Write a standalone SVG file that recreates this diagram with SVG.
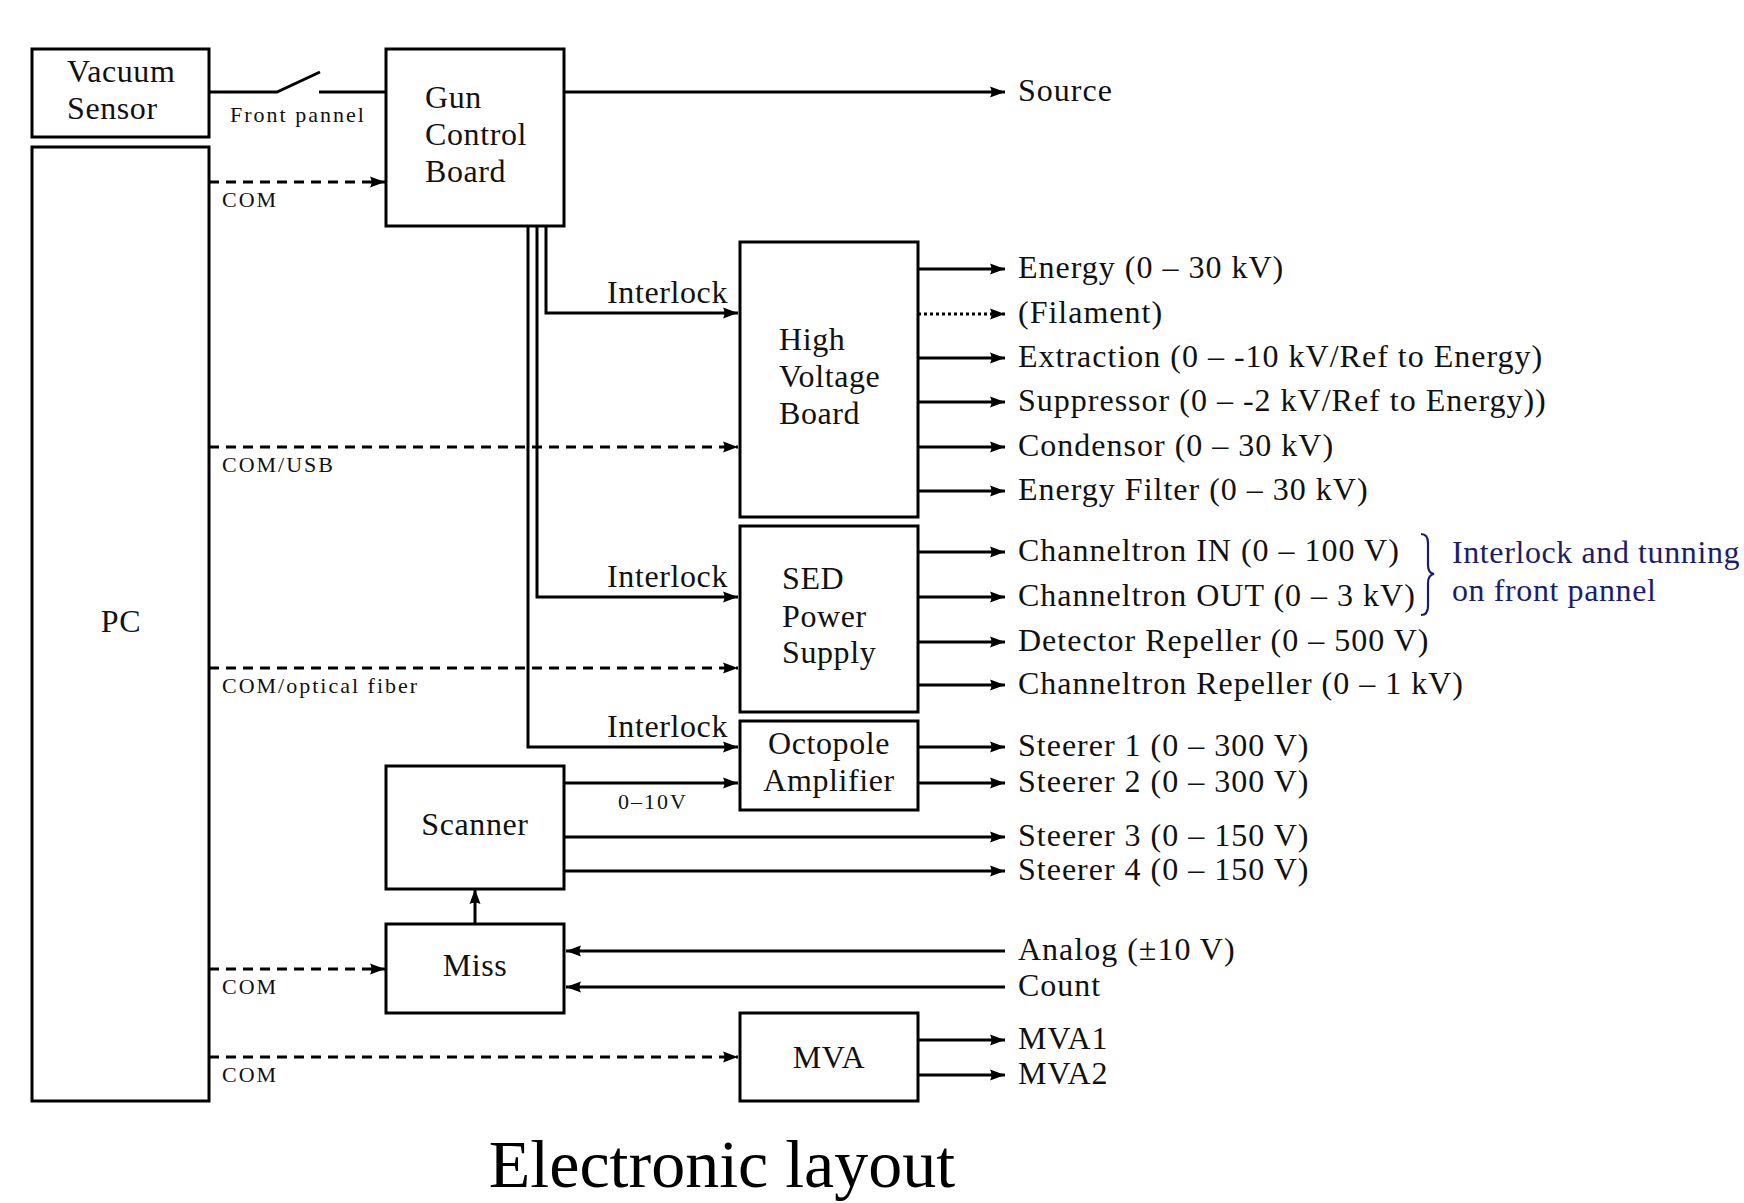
<svg xmlns="http://www.w3.org/2000/svg" width="1744" height="1203" viewBox="0 0 1744 1203">
<style>
  .box { fill: #fff; stroke: #000; stroke-width: 3; }
  .t { font-family: 'Liberation Serif', 'Times New Roman', serif; font-size: 32px; letter-spacing: 0.6px; fill: #111; }
  .o { letter-spacing: 1px; }
  .s { font-family: 'Liberation Serif', 'Times New Roman', serif; font-size: 22px; letter-spacing: 2px; fill: #111; }
  .ln { fill: none; stroke: #000; stroke-width: 3; }
  .arr { fill: none; stroke: #000; stroke-width: 3; marker-end: url(#ah); }
  .dash { fill: none; stroke: #000; stroke-width: 3; stroke-dasharray: 10 7; marker-end: url(#ah); }
  .dot { fill: none; stroke: #000; stroke-width: 3; stroke-dasharray: 3 3; marker-end: url(#ah); }
  .blue { fill: #1c1c6e; }
</style>
<defs>
  <marker id="ah" markerUnits="userSpaceOnUse" markerWidth="15" markerHeight="12" refX="15" refY="6" orient="auto">
    <path d="M0,0.5 L15,6 L0,11.5 Q3,6 0,0.5 z" fill="#000"/>
  </marker>
</defs>
<rect width="1744" height="1203" fill="#fff"/>

<g id="connectors">
  <!-- switch: vacuum sensor to gun control board -->
  <path class="ln" d="M209,92 H277 L320,72"/>
  <path class="ln" d="M319,92 H386"/>
  <!-- Gun control board to Source -->
  <path class="arr" d="M564,92 H1005"/>
  <!-- PC COM lines -->
  <path class="dash" d="M209,182 H385"/>
  <path class="dash" d="M209,447 H738"/>
  <path class="dash" d="M209,668 H738"/>
  <path class="dash" d="M209,969 H385"/>
  <path class="dash" d="M209,1057 H738"/>
  <!-- Interlocks -->
  <path class="arr" d="M546,226 V313 H738"/>
  <path class="arr" d="M537,226 V597 H738"/>
  <path class="arr" d="M528,226 V747 H738"/>
  <!-- Scanner -> Octopole -->
  <path class="arr" d="M564,783 H738"/>
  <!-- Scanner outputs -->
  <path class="arr" d="M564,837 H1005"/>
  <path class="arr" d="M564,871 H1005"/>
  <!-- Miss -> Scanner -->
  <path class="arr" d="M475,924 V889"/>
  <!-- Inputs to Miss -->
  <path class="arr" d="M1005,951 H566"/>
  <path class="arr" d="M1005,987 H566"/>
  <!-- HV outputs -->
  <path class="arr" d="M918,269 H1005"/>
  <path class="dot" d="M918,314 H1005"/>
  <path class="arr" d="M918,358 H1005"/>
  <path class="arr" d="M918,402 H1005"/>
  <path class="arr" d="M918,447 H1005"/>
  <path class="arr" d="M918,491 H1005"/>
  <!-- SED outputs -->
  <path class="arr" d="M918,552 H1005"/>
  <path class="arr" d="M918,597 H1005"/>
  <path class="arr" d="M918,642 H1005"/>
  <path class="arr" d="M918,685 H1005"/>
  <!-- Octopole outputs -->
  <path class="arr" d="M918,747 H1005"/>
  <path class="arr" d="M918,783 H1005"/>
  <!-- MVA outputs -->
  <path class="arr" d="M918,1040 H1005"/>
  <path class="arr" d="M918,1075 H1005"/>
  <!-- connector labels -->
  <text class="s" x="230" y="122">Front pannel</text>
  <text class="s" x="222" y="207">COM</text>
  <text class="s" x="222" y="472">COM/USB</text>
  <text class="s" x="222" y="693">COM/optical fiber</text>
  <text class="s" x="222" y="994">COM</text>
  <text class="s" x="222" y="1082">COM</text>
  <text class="s" x="618" y="809">0–10V</text>
  <text class="t" x="728" y="303" text-anchor="end">Interlock</text>
  <text class="t" x="728" y="587" text-anchor="end">Interlock</text>
  <text class="t" x="728" y="737" text-anchor="end">Interlock</text>
</g>

<g id="vacuum-sensor">
  <rect class="box" x="32" y="49" width="177" height="88"/>
  <text class="t" x="67" y="82">Vacuum</text>
  <text class="t" x="67" y="119">Sensor</text>
</g>
<g id="pc">
  <rect class="box" x="32" y="147" width="177" height="954"/>
  <text class="t" x="121" y="632" text-anchor="middle">PC</text>
</g>
<g id="gun-control-board">
  <rect class="box" x="386" y="49" width="178" height="177"/>
  <text class="t" x="425" y="108">Gun</text>
  <text class="t" x="425" y="145">Control</text>
  <text class="t" x="425" y="182">Board</text>
</g>
<g id="high-voltage-board">
  <rect class="box" x="740" y="242" width="178" height="275"/>
  <text class="t" x="779" y="350">High</text>
  <text class="t" x="779" y="387">Voltage</text>
  <text class="t" x="779" y="424">Board</text>
</g>
<g id="sed-power-supply">
  <rect class="box" x="740" y="526" width="178" height="186"/>
  <text class="t" x="782" y="589">SED</text>
  <text class="t" x="782" y="627">Power</text>
  <text class="t" x="782" y="663">Supply</text>
</g>
<g id="octopole-amplifier">
  <rect class="box" x="740" y="721" width="178" height="89"/>
  <text class="t" x="829" y="754" text-anchor="middle">Octopole</text>
  <text class="t" x="829" y="791" text-anchor="middle">Amplifier</text>
</g>
<g id="scanner">
  <rect class="box" x="386" y="766" width="178" height="123"/>
  <text class="t" x="475" y="835" text-anchor="middle">Scanner</text>
</g>
<g id="miss">
  <rect class="box" x="386" y="924" width="178" height="89"/>
  <text class="t" x="475" y="976" text-anchor="middle">Miss</text>
</g>
<g id="mva">
  <rect class="box" x="740" y="1013" width="178" height="88"/>
  <text class="t" x="829" y="1068" text-anchor="middle">MVA</text>
</g>

<g id="outputs">
  <text class="t o" x="1018" y="101">Source</text>
  <text class="t o" x="1018" y="278">Energy (0 – 30 kV)</text>
  <text class="t o" x="1018" y="323">(Filament)</text>
  <text class="t o" x="1018" y="367">Extraction (0 – -10 kV/Ref to Energy)</text>
  <text class="t o" x="1018" y="411">Suppressor (0 – -2 kV/Ref to Energy))</text>
  <text class="t o" x="1018" y="456">Condensor (0 – 30 kV)</text>
  <text class="t o" x="1018" y="500">Energy Filter (0 – 30 kV)</text>
  <text class="t o" x="1018" y="561">Channeltron IN (0 – 100 V)</text>
  <text class="t o" x="1018" y="606">Channeltron OUT (0 – 3 kV)</text>
  <text class="t o" x="1018" y="651">Detector Repeller (0 – 500 V)</text>
  <text class="t o" x="1018" y="694">Channeltron Repeller (0 – 1 kV)</text>
  <text class="t o" x="1018" y="756">Steerer 1 (0 – 300 V)</text>
  <text class="t o" x="1018" y="792">Steerer 2 (0 – 300 V)</text>
  <text class="t o" x="1018" y="846">Steerer 3 (0 – 150 V)</text>
  <text class="t o" x="1018" y="880">Steerer 4 (0 – 150 V)</text>
  <text class="t o" x="1018" y="960">Analog (±10 V)</text>
  <text class="t o" x="1018" y="996">Count</text>
  <text class="t o" x="1018" y="1049">MVA1</text>
  <text class="t o" x="1018" y="1084">MVA2</text>
</g>

<g id="note">
  <path d="M1421,534 Q1428,534 1428,543 L1428,565 Q1428,573 1434,574 Q1428,575 1428,583 L1428,606 Q1428,615 1421,615" fill="none" stroke="#1c1c6e" stroke-width="2.2"/>
  <text class="t blue" x="1452" y="563">Interlock and tunning</text>
  <text class="t blue" x="1452" y="601">on front pannel</text>
</g>

<text x="722" y="1187" text-anchor="middle" font-family="'Liberation Serif', 'Times New Roman', serif" font-size="68" fill="#000">Electronic layout</text>
</svg>
